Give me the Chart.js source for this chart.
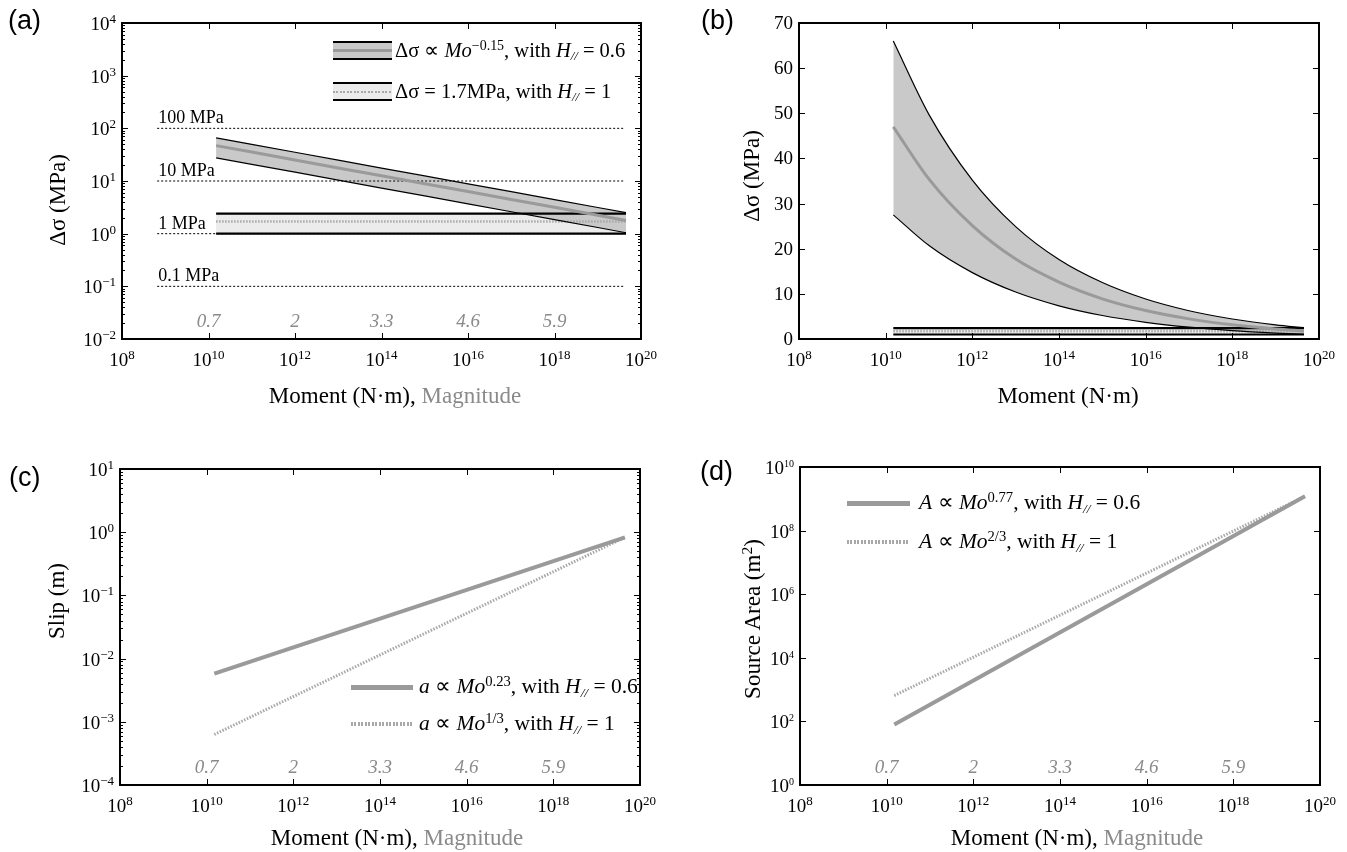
<!DOCTYPE html>
<html>
<head>
<meta charset="utf-8">
<script src="https://cdn.jsdelivr.net/npm/chart.js@4.4.0/dist/chart.umd.min.js"></script>
<style>
  body { margin:0; background:#fff; width:1347px; height:852px; position:relative; overflow:hidden;
         font-family:"Liberation Serif","Times New Roman",serif; color:#000; }
  canvas { position:absolute; }
  .t { position:absolute; white-space:nowrap; line-height:1; }
  .panel { font-family:"Liberation Sans",Arial,sans-serif; font-size:27px; }
  .xt { font-size:23px; transform:translate(-50%,-50%); }
  .yt { font-size:23px; transform:translate(-50%,-50%) rotate(-90deg); }
  .gray { color:#8a8a8a; }
  .leg { font-size:20.5px; transform:translateY(-50%); }
  .leg2 { font-size:21.5px; }
  sup { font-size:0.68em; vertical-align:0.48em; line-height:0; }
  sub { font-size:0.62em; vertical-align:-0.25em; line-height:0; font-style:italic; }
  .sw { position:absolute; box-sizing:border-box; }
  .dots { background:repeating-linear-gradient(90deg,#a8a8a8 0 2px,transparent 2px 3.5px); }
</style>
</head>
<body>
<script>
// ---- data ----
const X_TICKS = [1e8, 1e10, 1e12, 1e14, 1e16, 1e18, 1e20];
const MAG_POS = [1e10, 1e12, 1e14, 1e16, 1e18];
const MAG_LABELS = ['0.7', '2', '3.3', '4.6', '5.9'];

// stress drop band, Mo^-0.15 (H = 0.6)
const STRESS_X   = [1.5e10, 1e11, 1e12, 1e13, 1e14, 1e15, 1e16, 1e17, 1e18, 1e19, 4.5e19];
const STRESS_MID = [47, 35.4, 25.1, 17.7, 12.6, 8.9, 6.3, 4.46, 3.16, 2.23, 1.78];
const STRESS_HI  = [66, 49.7, 35.2, 24.9, 17.6, 12.5, 8.85, 6.26, 4.43, 3.14, 2.5];
const STRESS_LO  = [27.5, 20.7, 14.7, 10.4, 7.35, 5.2, 3.69, 2.61, 1.85, 1.31, 1.04];

// constant stress drop band (H = 1)
const CONST_X   = [1.5e10, 4.5e19];
const CONST_MID = [1.7, 1.7];
const CONST_HI  = [2.4, 2.4];
const CONST_LO  = [1.0, 1.0];

// reference stress levels in (a)
const REF_X = [6.5e8, 4.3e19];
const REF_LEVELS = [0.1, 1, 10, 100];
const REF_LABELS = ['0.1 MPa', '1 MPa', '10 MPa', '100 MPa'];

// slip (c) and source area (d)
const SLIP_X   = [1.5e10, 4.5e19];
const SLIP_H06 = [0.0058, 0.83];
const SLIP_H1  = [0.00063, 0.83];
const AREA_X   = [1.5e10, 4.5e19];
const AREA_H06 = [80, 1.2e9];
const AREA_H1  = [650, 1.2e9];

const Y_TICKS_A = [1e-2, 1e-1, 1e0, 1e1, 1e2, 1e3, 1e4];
const Y_TICKS_B = [0, 10, 20, 30, 40, 50, 60, 70];
const Y_TICKS_C = [1e-4, 1e-3, 1e-2, 1e-1, 1e0, 1e1];
const Y_TICKS_D = [1e0, 1e2, 1e4, 1e6, 1e8, 1e10];

const SERIF = '"Liberation Serif", "Times New Roman", serif';

function pts(xs, ys){ return xs.map((x,i) => ({x:x, y:ys[i]})); }

function line(xs, ys, color, width, extra){
  return Object.assign({ data: pts(xs, ys), borderColor: color, borderWidth: width,
    pointRadius: 0, fill: false, tension: 0 }, extra || {});
}

function expOf(v){ return String(Math.round(Math.log10(v))).replace('-', '\u2212'); }

// frame + inward ticks + tick labels with real superscripts
function axesPlugin(opt){
  return {
    id: 'axesframe',
    afterDraw(chart){
      const ctx = chart.ctx, a = chart.chartArea, x = chart.scales.x, y = chart.scales.y;
      ctx.save();
      ctx.strokeStyle = '#000';
      ctx.lineWidth = 1;
      ctx.beginPath();
      x.ticks.forEach(t => {
        const px = Math.round(x.getPixelForValue(t.value)) + 0.5;
        ctx.moveTo(px, a.bottom); ctx.lineTo(px, a.bottom - 6);
        ctx.moveTo(px, a.top); ctx.lineTo(px, a.top + 6);
      });
      y.ticks.forEach(t => {
        const py = Math.round(y.getPixelForValue(t.value)) + 0.5;
        ctx.moveTo(a.left, py); ctx.lineTo(a.left + 6, py);
        ctx.moveTo(a.right, py); ctx.lineTo(a.right - 6, py);
      });
      if (opt.minorY){
        const d0 = Math.round(Math.log10(y.min)), d1 = Math.round(Math.log10(y.max));
        for (let d = d0; d < d1; d++){
          for (let k = 2; k <= 9; k++){
            const py = Math.round(y.getPixelForValue(k * Math.pow(10, d))) + 0.5;
            ctx.moveTo(a.left, py); ctx.lineTo(a.left + 3, py);
            ctx.moveTo(a.right, py); ctx.lineTo(a.right - 3, py);
          }
        }
      }
      ctx.stroke();
      ctx.lineWidth = 2;
      ctx.strokeRect(a.left, a.top, a.width, a.height);

      // tick labels
      ctx.fillStyle = '#000';
      ctx.textBaseline = 'alphabetic';
      const base = '19px ' + SERIF;
      const drawPow = (v, cx, baseY, align, expSize) => {
        const e = expOf(v);
        ctx.font = base; const w1 = ctx.measureText('10').width;
        ctx.font = expSize + 'px ' + SERIF; const w2 = ctx.measureText(e).width;
        const left = align === 'right' ? cx - w1 - w2 : cx - (w1 + w2) / 2;
        ctx.textAlign = 'left';
        ctx.font = base; ctx.fillText('10', left, baseY);
        ctx.font = expSize + 'px ' + SERIF; ctx.fillText(e, left + w1, baseY - 7);
      };
      x.ticks.forEach(t => drawPow(t.value, x.getPixelForValue(t.value), a.bottom + 27, 'center', 13));
      y.ticks.forEach(t => {
        const py = y.getPixelForValue(t.value);
        if (opt.linearY){
          ctx.font = base; ctx.textAlign = 'right';
          ctx.fillText(String(t.value), a.left - 6, py + 6);
        } else {
          drawPow(t.value, a.left - 6, py + 7, 'right', opt.yExp || 13);
        }
      });
      ctx.restore();
    }
  };
}

// grey italic magnitude labels just above the x axis
const magPlugin = {
  id: 'mag',
  afterDatasetsDraw(chart){
    const ctx = chart.ctx, x = chart.scales.x, a = chart.chartArea;
    ctx.save();
    ctx.font = 'italic 19px ' + SERIF;
    ctx.fillStyle = '#8a8a8a';
    ctx.textAlign = 'center';
    ctx.textBaseline = 'middle';
    MAG_POS.forEach((v,i) => ctx.fillText(MAG_LABELS[i], x.getPixelForValue(v), a.bottom - 17));
    ctx.restore();
  }
};

// "100 MPa" etc. in (a)
const refLabelPlugin = {
  id: 'reflabels',
  afterDatasetsDraw(chart){
    const ctx = chart.ctx, x = chart.scales.x, y = chart.scales.y;
    ctx.save();
    ctx.font = '18px ' + SERIF;
    ctx.fillStyle = '#000';
    ctx.textAlign = 'left';
    ctx.textBaseline = 'alphabetic';
    REF_LEVELS.forEach((v,i) => ctx.fillText(REF_LABELS[i], x.getPixelForValue(REF_X[0]) + 1, y.getPixelForValue(v) - 5));
    ctx.restore();
  }
};

function axis(type, min, max, ticks, isX){
  return {
    type: type, min: min, max: max,
    afterBuildTicks: s => { s.ticks = ticks.map(v => ({ value: v })); },
    afterFit: s => { if (isX) s.height = 50; else s.width = 82; },
    grid: { display: false, drawTicks: false },
    border: { display: false },
    ticks: { display: false }
  };
}

function makeChart(box, datasets, yType, yMin, yMax, yTicks, plugins){
  const c = document.createElement('canvas');
  c.width = box[2]; c.height = box[3];
  c.style.left = box[0] + 'px'; c.style.top = box[1] + 'px';
  c.style.width = box[2] + 'px'; c.style.height = box[3] + 'px';
  document.body.appendChild(c);
  return new Chart(c.getContext('2d'), {
    type: 'line',
    data: { datasets: datasets },
    options: {
      responsive: false, animation: false, devicePixelRatio: 1,
      layout: { padding: { left: 0, top: 23, right: 24, bottom: 0 } },
      plugins: { legend: { display: false }, tooltip: { enabled: false },
                 filler: { propagate: false, drawTime: 'beforeDatasetsDraw' } },
      scales: {
        x: axis('logarithmic', 1e8, 1e20, X_TICKS, true),
        y: axis(yType, yMin, yMax, yTicks, false)
      }
    },
    plugins: plugins
  });
}

function stressSets(withRef, mono){
  const cm = mono ? { cubicInterpolationMode: 'monotone' } : {};
  const sets = [
    line(STRESS_X, STRESS_MID, '#9a9a9a', 3, cm),
    line(STRESS_X, STRESS_HI, '#000', 1.2, Object.assign({ fill: '+1', backgroundColor: '#c9c9c9' }, cm)),
    line(STRESS_X, STRESS_LO, '#000', 1.2, cm),
    line(CONST_X, CONST_MID, '#a8a8a8', 2.5, { borderDash: [1.5, 1.5] }),
    line(CONST_X, CONST_HI, '#000', 2.2, { fill: '+1', backgroundColor: '#ececec' }),
    line(CONST_X, CONST_LO, '#000', 2.2)
  ];
  if (withRef){
    REF_LEVELS.forEach(v => sets.push(line(REF_X, [v, v], '#000', 1, { borderDash: [2, 2] })));
  }
  return sets;
}

// (a)
makeChart([40, 0, 625, 389], stressSets(true, false), 'logarithmic', 1e-2, 1e4, Y_TICKS_A,
  [axesPlugin({ minorY: true }), magPlugin, refLabelPlugin]);
// (b)
makeChart([717, 0, 626, 389], stressSets(false, true), 'linear', 0, 70, Y_TICKS_B,
  [axesPlugin({ linearY: true })]);
// (c)
makeChart([38, 446, 626, 389], [
  line(SLIP_X, SLIP_H06, '#9a9a9a', 4),
  line(SLIP_X, SLIP_H1, '#a8a8a8', 3, { borderDash: [1.5, 1.5] })
], 'logarithmic', 1e-4, 1e1, Y_TICKS_C, [axesPlugin({ minorY: true }), magPlugin]);
// (d)
makeChart([718, 444, 626, 391], [
  line(AREA_X, AREA_H06, '#9a9a9a', 4),
  line(AREA_X, AREA_H1, '#a8a8a8', 3, { borderDash: [1.5, 1.5] })
], 'logarithmic', 1e0, 1e10, Y_TICKS_D, [axesPlugin({ yExp: 10 }), magPlugin]);
</script>

<!-- panel letters -->
<div class="t panel" style="left:8px;top:7px">(a)</div>
<div class="t panel" style="left:701px;top:7px">(b)</div>
<div class="t panel" style="left:9px;top:464px">(c)</div>
<div class="t panel" style="left:700px;top:458px">(d)</div>

<!-- axis titles -->
<div class="t xt" style="left:395px;top:395px">Moment (N·m), <span class="gray">Magnitude</span></div>
<div class="t xt" style="left:1068px;top:395px">Moment (N·m)</div>
<div class="t xt" style="left:397px;top:837px">Moment (N·m), <span class="gray">Magnitude</span></div>
<div class="t xt" style="left:1077px;top:837px">Moment (N·m), <span class="gray">Magnitude</span></div>
<div class="t yt" style="left:57px;top:200px">Δσ (MPa)</div>
<div class="t yt" style="left:751px;top:176px">Δσ (MPa)</div>
<div class="t yt" style="left:56px;top:601px">Slip (m)</div>
<div class="t yt" style="left:752px;top:619px">Source Area (m<sup>2</sup>)</div>

<!-- legend (a) -->
<div class="sw" style="left:333px;top:41px;width:59px;height:19px;background:#c9c9c9;border-top:2px solid #000;border-bottom:2px solid #000">
  <div class="sw" style="left:0;top:6px;width:100%;height:3px;background:#9a9a9a"></div></div>
<div class="t leg" style="left:395px;top:50px">Δσ ∝ <i>Mo</i><sup>−0.15</sup>, with <i>H</i><sub>//</sub> = 0.6</div>
<div class="sw" style="left:333px;top:82px;width:59px;height:19px;background:#ececec;border-top:2px solid #000;border-bottom:2px solid #000">
  <div class="sw dots" style="left:0;top:6.5px;width:100%;height:2px"></div></div>
<div class="t leg" style="left:395px;top:91px">Δσ = 1.7MPa, with <i>H</i><sub>//</sub> = 1</div>

<!-- legend (c) -->
<div class="sw" style="left:351px;top:685px;width:62px;height:5px;background:#9a9a9a"></div>
<div class="t leg leg2" style="left:419px;top:687px"><i>a</i> ∝ <i>Mo</i><sup>0.23</sup>, with <i>H</i><sub>//</sub> = 0.6</div>
<div class="sw dots" style="left:351px;top:722px;width:62px;height:4px"></div>
<div class="t leg leg2" style="left:419px;top:724px"><i>a</i> ∝ <i>Mo</i><sup>1/3</sup>, with <i>H</i><sub>//</sub> = 1</div>

<!-- legend (d) -->
<div class="sw" style="left:847px;top:501px;width:63px;height:5px;background:#9a9a9a"></div>
<div class="t leg leg2" style="left:919px;top:503px"><i>A</i> ∝ <i>Mo</i><sup>0.77</sup>, with <i>H</i><sub>//</sub> = 0.6</div>
<div class="sw dots" style="left:847px;top:540px;width:63px;height:4px"></div>
<div class="t leg leg2" style="left:919px;top:542px"><i>A</i> ∝ <i>Mo</i><sup>2/3</sup>, with <i>H</i><sub>//</sub> = 1</div>
</body>
</html>
